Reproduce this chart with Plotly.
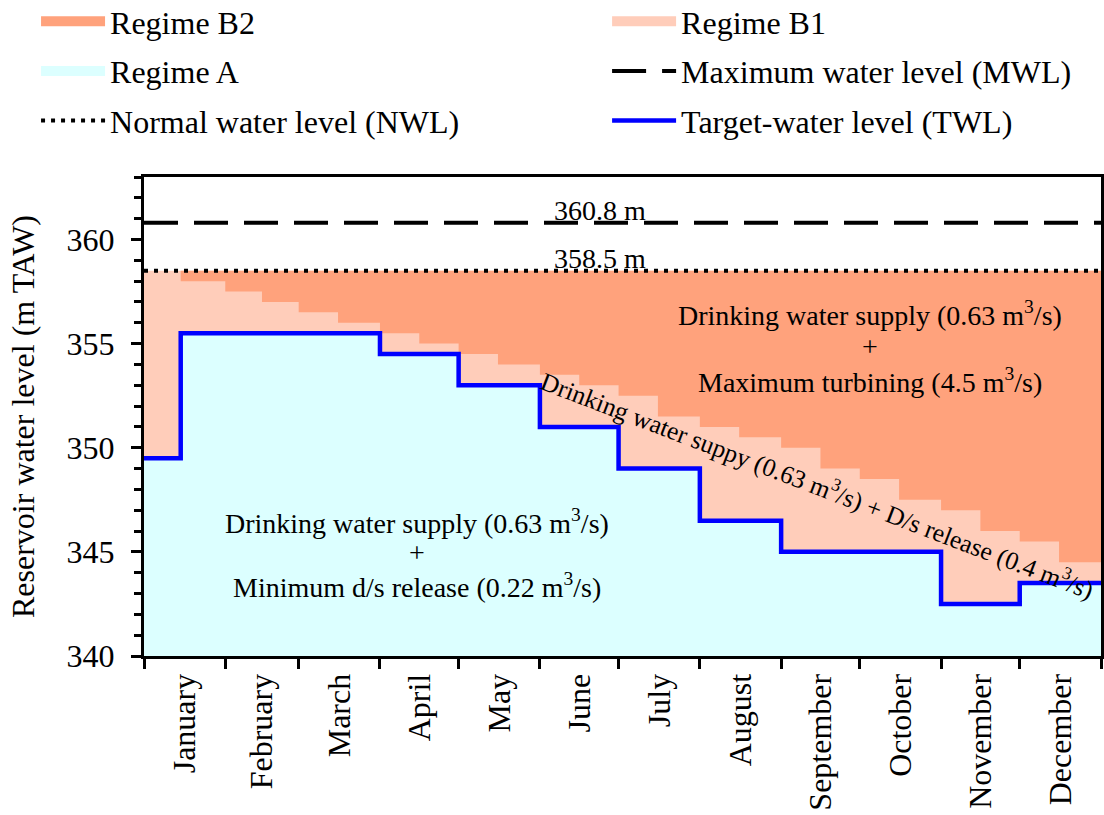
import numpy as np
import plotly.graph_objects as go

# ---------------- data ----------------
month_names = ["January", "February", "March", "April", "May", "June", "July",
               "August", "September", "October", "November", "December"]
month_days = [31, 28, 31, 30, 31, 30, 31, 31, 30, 31, 30, 31]

# Target-water level (TWL): start day of each constant segment and its level (m TAW)
twl_start_days = [0, 14, 90, 120, 151, 181, 212, 243, 304, 334]
twl_levels = [349.5, 355.5, 354.5, 353.0, 351.0, 349.0, 346.5, 345.0, 342.5, 343.5]

# Boundary between regime B1 and B2 (half-month steps)
b2_start_days = [0, 14, 31, 45, 59, 74, 90, 105, 120, 135, 151, 166,
                 181, 196, 212, 227, 243, 258, 273, 288, 304, 319, 334, 349]
b2_levels = [358.5, 358.0, 357.5, 357.0, 356.5, 356.0, 355.5, 355.0, 354.5, 354.0, 353.5, 353.0,
             352.5, 351.5, 351.0, 350.5, 350.0, 349.0, 348.5, 347.5, 347.0, 346.0, 345.5, 344.5]

mwl_level = 360.8   # maximum water level
nwl_level = 358.5   # normal water level
year_days = 365

# ---------------- derived ----------------
month_edges = np.concatenate([[0], np.cumsum(month_days)])
month_mid = (month_edges[:-1] + month_edges[1:]) / 2.0

twl_x = twl_start_days + [year_days]
twl_y = twl_levels + [twl_levels[-1]]
b2_x = b2_start_days + [year_days]
b2_y = b2_levels + [b2_levels[-1]]
full_x = [0, year_days]

FONT = "Liberation Serif"
C_B2 = "#FFA27C"
C_B1 = "#FFCDBA"
C_A = "#DCFFFF"

fig = go.Figure()

# Regime A (below TWL)
fig.add_trace(go.Scatter(x=twl_x, y=twl_y, mode="lines", line=dict(width=0, shape="hv"),
                         fill="tozeroy", fillcolor=C_A, name="Regime A", showlegend=False,
                         hoverinfo="skip"))
# Regime B1 (between TWL and NWL)
fig.add_trace(go.Scatter(x=full_x, y=[nwl_level, nwl_level], mode="lines", line=dict(width=0),
                         fill="tonexty", fillcolor=C_B1, name="Regime B1", showlegend=False,
                         hoverinfo="skip"))
# Regime B2 (between boundary and NWL)
fig.add_trace(go.Scatter(x=b2_x, y=b2_y, mode="lines", line=dict(width=0, shape="hv"),
                         fill="tonexty", fillcolor=C_B2, name="Regime B2", showlegend=False,
                         hoverinfo="skip"))

# legend swatches for the regime areas
def swatch(name, color, legend, rank):
    return go.Scatter(x=[None], y=[None], mode="lines", line=dict(color=color, width=20),
                      name=name, legend=legend, legendgroup=name, legendrank=rank)

fig.add_trace(swatch("Regime B2", C_B2, "legend", 1))
fig.add_trace(swatch("Regime B1", C_B1, "legend2", 1))
fig.add_trace(swatch("Regime A", C_A, "legend", 2))

# MWL
fig.add_trace(go.Scatter(x=full_x, y=[mwl_level, mwl_level], mode="lines",
                         line=dict(color="black", width=4, dash="34px,16px"),
                         name="Maximum water level (MWL)", legend="legend2",
                         legendgroup="mwl", legendrank=2))
# NWL
fig.add_trace(go.Scatter(x=full_x, y=[nwl_level, nwl_level], mode="lines",
                         line=dict(color="black", width=4, dash="4px,6px"),
                         name="Normal water level (NWL)", legend="legend",
                         legendgroup="nwl", legendrank=3))
# TWL
fig.add_trace(go.Scatter(x=twl_x, y=twl_y, mode="lines",
                         line=dict(color="#0000FF", width=4.5, shape="hv"),
                         name="Target-water level (TWL)", legend="legend2",
                         legendgroup="twl", legendrank=3))

ann_font = dict(family=FONT, size=28, color="black")
annotations = [
    dict(x=174, y=mwl_level, text="360.8 m", showarrow=False, yanchor="bottom", yshift=-5, font=ann_font),
    dict(x=174, y=nwl_level, text="358.5 m", showarrow=False, yanchor="bottom", yshift=-5, font=ann_font),
    dict(x=277, y=356.45, text="Drinking water supply (0.63 m<sup>3</sup>/s)", showarrow=False, font=ann_font),
    dict(x=277, y=354.85, text="+", showarrow=False, font=ann_font),
    dict(x=277, y=353.25, text="Maximum turbining (4.5 m<sup>3</sup>/s)", showarrow=False, font=ann_font),
    dict(x=104, y=346.45, text="Drinking water supply (0.63 m<sup>3</sup>/s)", showarrow=False, font=ann_font),
    dict(x=104, y=344.95, text="+", showarrow=False, font=ann_font),
    dict(x=104, y=343.4, text="Minimum d/s release (0.22 m<sup>3</sup>/s)", showarrow=False, font=ann_font),
    dict(x=257, y=348.25, text="Drinking water suppy (0.63 m<sup>3</sup>/s) + D/s release (0.4 m<sup>3</sup>/s)",
         showarrow=False, textangle=21, font=dict(family=FONT, size=25.5, color="black")),
]

legend_common = dict(orientation="v", xanchor="left", y=1.382, yanchor="top",
                     font=dict(family=FONT, size=32, color="black"),
                     itemwidth=64, traceorder="grouped", tracegroupgap=5,
                     bgcolor="rgba(0,0,0,0)")

fig.update_layout(
    width=1104, height=815,
    margin=dict(l=144, r=3, t=177, b=159, autoexpand=False),
    paper_bgcolor="white", plot_bgcolor="white",
    font=dict(family=FONT, size=32, color="black"),
    showlegend=True,
    legend=dict(x=-0.1128, **legend_common),
    legend2=dict(x=0.4839, **legend_common),
    annotations=annotations,
)

fig.update_xaxes(
    range=[0, year_days], tickmode="array", tickvals=month_mid, ticktext=month_names,
    tickangle=-90, ticks="outside", ticklen=2, tickcolor="rgba(0,0,0,0)",
    tickfont=dict(family=FONT, size=32, color="black"),
    minor=dict(tickmode="array", tickvals=month_edges.tolist(), ticks="outside",
               ticklen=10, tickwidth=3, tickcolor="black", showgrid=False),
    showline=True, linewidth=3, linecolor="black", mirror=True,
    showgrid=False, zeroline=False,
)
fig.update_yaxes(
    range=[340, 363], tickmode="array", tickvals=[340, 345, 350, 355, 360],
    ticks="outside", ticklen=10, tickwidth=3, tickcolor="black", ticklabelstandoff=10,
    tickfont=dict(family=FONT, size=32, color="black"),
    minor=dict(dtick=1, tick0=340, ticks="outside", ticklen=7, tickwidth=3,
               tickcolor="black", showgrid=False),
    showline=True, linewidth=3, linecolor="black", mirror=True,
    showgrid=False, zeroline=False,
    title=dict(text="Reservoir water level (m TAW)", font=dict(family=FONT, size=32), standoff=23),
)

fig.write_html("out.html")
